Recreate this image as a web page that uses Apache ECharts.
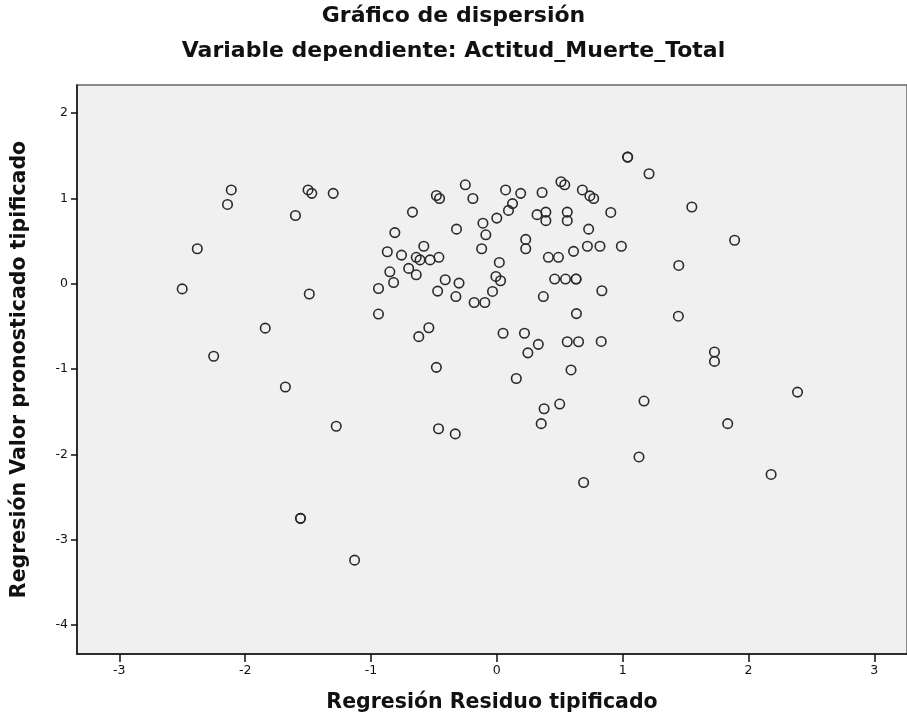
<!DOCTYPE html>
<html><head><meta charset="utf-8">
<script src="https://cdn.jsdelivr.net/npm/echarts@6/dist/echarts.min.js"></script>
<style>html,body{margin:0;padding:0;background:#fff}#c{width:907px;height:722px}</style>
</head><body><div id="c"></div>
<script>
const titleText = 'Gráfico de dispersión';
const subtitleText = 'Variable dependiente: Actitud_Muerte_Total';
const xAxisName = 'Regresión Residuo tipificado';
const yAxisName = 'Regresión Valor pronosticado tipificado';
const xTicks = [-3, -2, -1, 0, 1, 2, 3];
const yTicks = [-4, -3, -2, -1, 0, 1, 2];
const residuals = [
 -2.11,-2.14,-1.50,-1.47,-1.30,-1.60,-2.38,-2.50,-1.49,-1.84,-2.25,
 -0.81,-0.87,-0.757,-0.70,-0.85,-0.82,-0.94,-0.94,-0.67,
 1.04,1.04,-0.25,-0.48,-0.455,-0.19,0.07,0.19,0.36,0.51,0.54,0.68,0.74,0.77,
 0.125,0.093,0.00,0.32,0.39,0.39,0.56,0.56,0.906,
 -0.32,-0.11,-0.087,0.73,0.23,0.23,-0.12,0.72,0.82,0.99,0.61,0.41,0.49,
 -0.58,-0.64,-0.61,-0.53,-0.46,-0.64,0.02,-0.007,0.03,-0.034,-0.095,-0.18,
 -0.41,-0.30,-0.47,-0.325,0.46,0.546,0.63,0.63,0.835,0.37,0.633,
 -0.54,-0.62,0.05,0.22,0.33,0.247,0.56,0.65,0.83,-0.48,0.59,0.155,
 1.21,1.55,1.89,1.446,1.443,1.73,1.73,
 -1.68,-1.276,-0.463,-1.56,-1.56,-1.13,1.17,0.50,0.376,0.353,-0.33,1.13,0.69,
 2.39,1.835,2.18
];
const predicted = [
 1.10,0.93,1.10,1.06,1.06,0.80,0.41,-0.06,-0.12,-0.52,-0.85,
 0.60,0.375,0.336,0.18,0.14,0.015,-0.055,-0.355,0.84,
 1.485,1.485,1.16,1.035,1.00,1.00,1.10,1.06,1.07,1.196,1.16,1.10,1.03,1.00,
 0.94,0.86,0.77,0.81,0.84,0.74,0.84,0.74,0.836,
 0.64,0.71,0.574,0.64,0.52,0.41,0.41,0.44,0.44,0.44,0.38,0.31,0.31,
 0.44,0.31,0.28,0.28,0.31,0.105,0.25,0.086,0.035,-0.09,-0.22,-0.22,
 0.047,0.008,-0.086,-0.15,0.055,0.055,0.055,0.055,-0.082,-0.15,-0.35,
 -0.516,-0.62,-0.58,-0.58,-0.71,-0.81,-0.68,-0.68,-0.676,-0.98,-1.01,-1.11,
 1.29,0.90,0.51,0.215,-0.38,-0.80,-0.91,
 -1.21,-1.67,-1.70,-2.75,-2.75,-3.24,-1.375,-1.41,-1.465,-1.64,-1.76,-2.03,-2.33,
 -1.27,-1.64,-2.235
];
const points = residuals.map((x, i) => [x, predicted[i]]);

const chart = echarts.init(document.getElementById('c'));
const font = 'DejaVu Sans';
chart.setOption({
  animation: false,
  backgroundColor: '#ffffff',
  title: [
    {text: titleText, left: 'center', top: 5, padding: 0,
     textStyle: {fontFamily: font, fontWeight: 'bold', fontSize: 22, color: '#111'}},
    {text: subtitleText, left: 'center', top: 40, padding: 0,
     textStyle: {fontFamily: font, fontWeight: 'bold', fontSize: 22, color: '#111'}}
  ],
  grid: {left: 77, top: 85, right: 0, bottom: 68, show: true,
         backgroundColor: '#f0f0f0', borderColor: '#666', borderWidth: 1.5},
  xAxis: {
    type: 'value', min: -3.336, max: 3.26,
    name: xAxisName, nameLocation: 'middle', nameGap: 38,
    nameTextStyle: {fontFamily: font, fontWeight: 'bold', fontSize: 20.5, color: '#111'},
    axisLine: {onZero: false, lineStyle: {color: '#111', width: 1.5}},
    axisTick: {show: true, length: 8, inside: false, customValues: xTicks, lineStyle: {color: '#111', width: 1.5}},
    axisLabel: {customValues: xTicks, margin: 10, fontFamily: font, fontSize: 12.5, color: '#111'},
    splitLine: {show: false}
  },
  yAxis: {
    type: 'value', min: -4.34, max: 2.33,
    name: yAxisName, nameLocation: 'middle', nameGap: 47, nameRotate: 90,
    nameTextStyle: {fontFamily: font, fontWeight: 'bold', fontSize: 20.5, color: '#111'},
    axisLine: {onZero: false, lineStyle: {color: '#111', width: 1.5}},
    axisTick: {show: true, length: 6, customValues: yTicks, lineStyle: {color: '#111', width: 1.5}},
    axisLabel: {customValues: yTicks, margin: 9, fontFamily: font, fontSize: 12.5, color: '#111'},
    splitLine: {show: false}
  },
  series: [{
    type: 'scatter', data: points, symbol: 'circle', symbolSize: 9.5,
    itemStyle: {color: 'rgba(0,0,0,0)', borderColor: '#2a2a2a', borderWidth: 1.6, opacity: 1},
    emphasis: {disabled: true}
  }]
});
</script></body></html>
